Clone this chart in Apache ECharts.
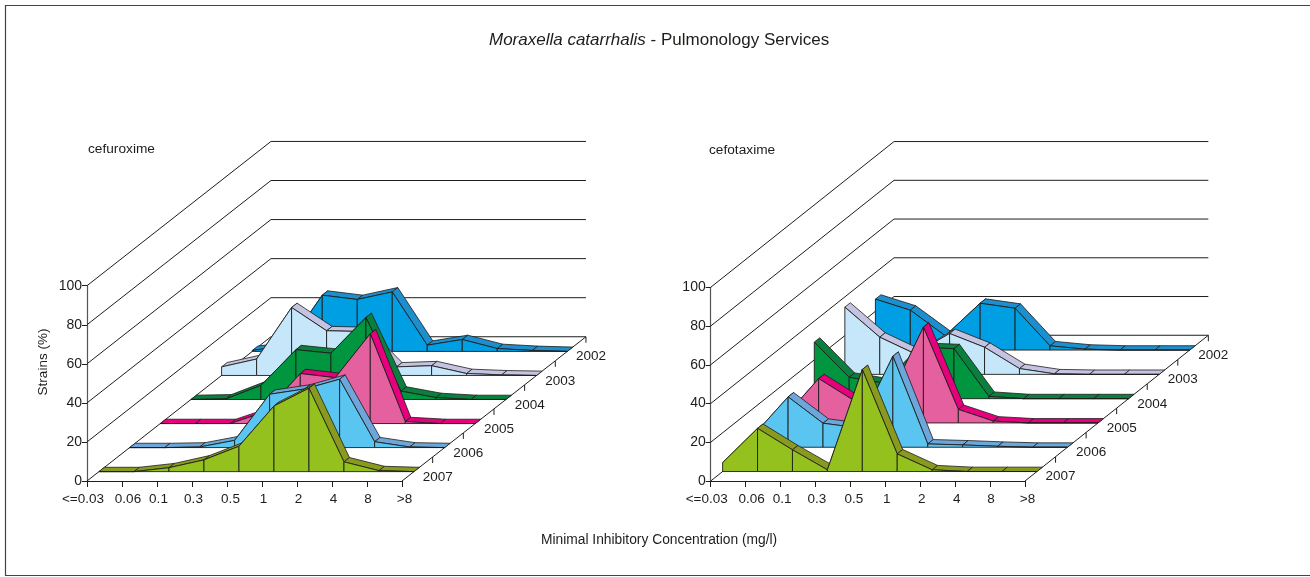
<!DOCTYPE html>
<html>
<head>
<meta charset="utf-8">
<style>html,body{margin:0;padding:0;background:#fff}#c{width:1310px;height:577px}</style>
<script src="https://cdn.jsdelivr.net/npm/echarts@6/dist/echarts.min.js"></script>
</head>
<body>
<div id="c"></div>
<script>
const categories = ['<=0.03','0.06','0.1','0.3','0.5','1','2','4','8','>8'];
const years = ['2007','2006','2005','2004','2003','2002'];
const yTicks = [0,20,40,60,80,100];

const cefuroxime2007 = [0,0,2,6,13,33.6,42.7,5,0.5,0];
const cefuroxime2006 = [0,0,0.3,3.7,27.3,30,35,3,0.3,0];
const cefuroxime2005 = [0,0,0,6,25.6,23.5,46,1,0,0];
const cefuroxime2004 = [0,0.3,7.2,25.5,23.7,42,4.3,1,0,0];
const cefuroxime2003 = [4.4,8.4,34.8,22.9,22.5,4.4,5,1,0.3,0];
const cefuroxime2002 = [0.5,3,28.8,26.6,30.5,3.2,6.1,1.5,0.5,0];

const cefotaxime2007 = [4.6,22.3,11.2,0.9,52.7,9.1,0.9,0,0,0];
const cefotaxime2006 = [6,26,12.4,10,47,1.7,1.2,0.5,0,0];
const cefotaxime2005 = [2.6,22.9,11.7,12,49.5,7,1,0,0,0];
const cefotaxime2004 = [29.2,11,8,26.5,25.8,1.2,0,0,0,0];
const cefotaxime2003 = [34.7,19.2,10.7,21.1,14,3,0.3,0,0,0];
const cefotaxime2002 = [26.3,20.6,7.4,24.2,21.6,2.2,0.5,0,0,0];

const faceColors = ['#95C11F','#5BC5F2','#E5609F','#009640','#C6E7FA','#009FE3'];
const bandColors = ['#8A9A1E','#6CA6DA','#E6007E','#0B7F3E','#C5C3E2','#1D8FCF'];
const labelNudge = [-4,6,1.5,1.5,3.5,1.5,1.5,1.5,1,2.5];
const FONT = '"Liberation Sans",Arial,sans-serif';
const INK = '#1d1d1b';
const ribbonFront = 0.39, ribbonDepth = 0.18, floorDepth = 6;

const panels = [
  {left:87, width:315, top:285.7, height:195.3, kx:0.876, ky:12.31,
   rows:[cefuroxime2007,cefuroxime2006,cefuroxime2005,cefuroxime2004,cefuroxime2003,cefuroxime2002]},
  {left:710.7, width:314.3, top:287.3, height:193.7, kx:0.875, ky:12.54,
   rows:[cefotaxime2007,cefotaxime2006,cefotaxime2005,cefotaxime2004,cefotaxime2003,cefotaxime2002]}
];

const grids=[], xAxes=[], yAxes=[], series=[];
panels.forEach((p,pi)=>{
  grids.push({left:p.left, top:p.top, width:p.width, height:p.height});
  xAxes.push({gridIndex:pi, type:'value', min:0, max:9, interval:1, splitLine:{show:false},
    axisLine:{onZero:false, lineStyle:{color:INK,width:1}}, axisTick:{length:6, lineStyle:{color:INK}},
    axisLabel:{show:false}});
  yAxes.push({gridIndex:pi, type:'value', min:0, max:100, interval:20, splitLine:{show:false},
    axisLine:{show:true, lineStyle:{color:'#555',width:1.2}}, axisTick:{show:true, length:5, lineStyle:{color:INK}},
    axisLabel:{margin:5, color:INK, fontFamily:FONT, fontSize:14}});
  const depthPoint=(api,i,v,d)=>api.coord([i+d*p.kx, v+d*p.ky]);
  // category labels, nudged individually as in the reference
  series.push({type:'custom', xAxisIndex:pi, yAxisIndex:pi, silent:true, animation:false, z:1,
    data:categories.map((c,i)=>[i,0]),
    renderItem:(params,api)=>{
      const i=api.value(0), a=api.coord([i,0]);
      return {type:'text', x:a[0]+labelNudge[i], y:a[1]+18, style:{text:categories[i], fill:INK, font:'13.5px '+FONT, textAlign:'center', textVerticalAlign:'middle'}};
    }});
  series.push({type:'custom', xAxisIndex:pi, yAxisIndex:pi, silent:true, animation:false, z:1,
    data:yTicks.map(v=>[0,v]),
    renderItem:(params,api)=>{
      const v=api.value(1);
      const a=depthPoint(api,0,v,0), b=depthPoint(api,0,v,floorDepth), c=depthPoint(api,9,v,floorDepth);
      return {type:'polyline', shape:{points:[a,b,c]}, style:{fill:'none', stroke:INK, lineWidth:1}};
    }});
  series.push({type:'custom', xAxisIndex:pi, yAxisIndex:pi, silent:true, animation:false, z:1,
    data:years.map((y,k)=>[9,k+1]),
    renderItem:(params,api)=>{
      const k=api.value(1);
      const a=depthPoint(api,9,0,k-1), b=depthPoint(api,9,0,k);
      return {type:'group', children:[
        {type:'line', shape:{x1:a[0],y1:a[1],x2:b[0],y2:b[1]}, style:{stroke:INK,lineWidth:1}},
        {type:'line', shape:{x1:b[0],y1:b[1],x2:b[0],y2:b[1]+6}, style:{stroke:INK,lineWidth:1}},
        {type:'text', x:b[0]-10, y:b[1]+20, style:{text:years[k-1], fill:INK, font:'13.5px '+FONT, textAlign:'left', textVerticalAlign:'middle'}}
      ]};
    }});
  for(let r=years.length-1;r>=0;r--){
    const vals=p.rows[r];
    const d0=r+ribbonFront, d1=d0+ribbonDepth;
    series.push({type:'custom', name:years[r], xAxisIndex:pi, yAxisIndex:pi, silent:true, animation:false, z:2+(years.length-r),
      data:vals.map((v,i)=>[i,v]),
      renderItem:(params,api)=>{
        const i=api.value(0);
        if(i>=vals.length-1) return null;
        const v=api.value(1), w=vals[i+1];
        const f0=depthPoint(api,i,v,d0), f1=depthPoint(api,i+1,w,d0);
        const b0=depthPoint(api,i,v,d1), b1=depthPoint(api,i+1,w,d1);
        const g0=depthPoint(api,i,0,d0), g1=depthPoint(api,i+1,0,d0);
        return {type:'group', children:[
          {type:'polygon', shape:{points:[f0,f1,b1,b0]}, style:{fill:bandColors[r], stroke:INK, lineWidth:0.8, lineJoin:'round'}},
          {type:'polygon', shape:{points:[g0,f0,f1,g1]}, style:{fill:faceColors[r], stroke:INK, lineWidth:0.9, lineJoin:'round'}}
        ]};
      }});
  }
});

const chart=echarts.init(document.getElementById('c'),null,{renderer:'canvas'});
chart.setOption({
  animation:false,
  backgroundColor:'#fff',
  title:{text:'{i|Moraxella catarrhalis}{n| - Pulmonology Services}', left:484, top:27,
    textStyle:{rich:{i:{fontStyle:'italic',fontWeight:'normal',fontFamily:FONT,fontSize:17,color:INK},n:{fontWeight:'normal',fontFamily:FONT,fontSize:17,color:INK}}}},
  grid:grids, xAxis:xAxes, yAxis:yAxes, series:series,
  graphic:[
    {type:'polyline', silent:true, shape:{points:[[1320,5.5],[5.5,5.5],[5.5,575.5],[1320,575.5]]}, style:{fill:'none',stroke:'#444',lineWidth:1.2}},
    {type:'text', silent:true, left:88, top:142, style:{text:'cefuroxime', fill:INK, font:'13.7px '+FONT}},
    {type:'text', silent:true, left:709, top:143, style:{text:'cefotaxime', fill:INK, font:'13.7px '+FONT}},
    {type:'text', silent:true, left:541, top:533, style:{text:'Minimal Inhibitory Concentration (mg/l)', fill:INK, font:'13.8px '+FONT}},
    {type:'text', silent:true, x:43, y:362, rotation:Math.PI/2, style:{text:'Strains (%)', fill:INK, font:'13.5px '+FONT, textAlign:'center', textVerticalAlign:'middle'}}
  ]
});
</script>
</body>
</html>
